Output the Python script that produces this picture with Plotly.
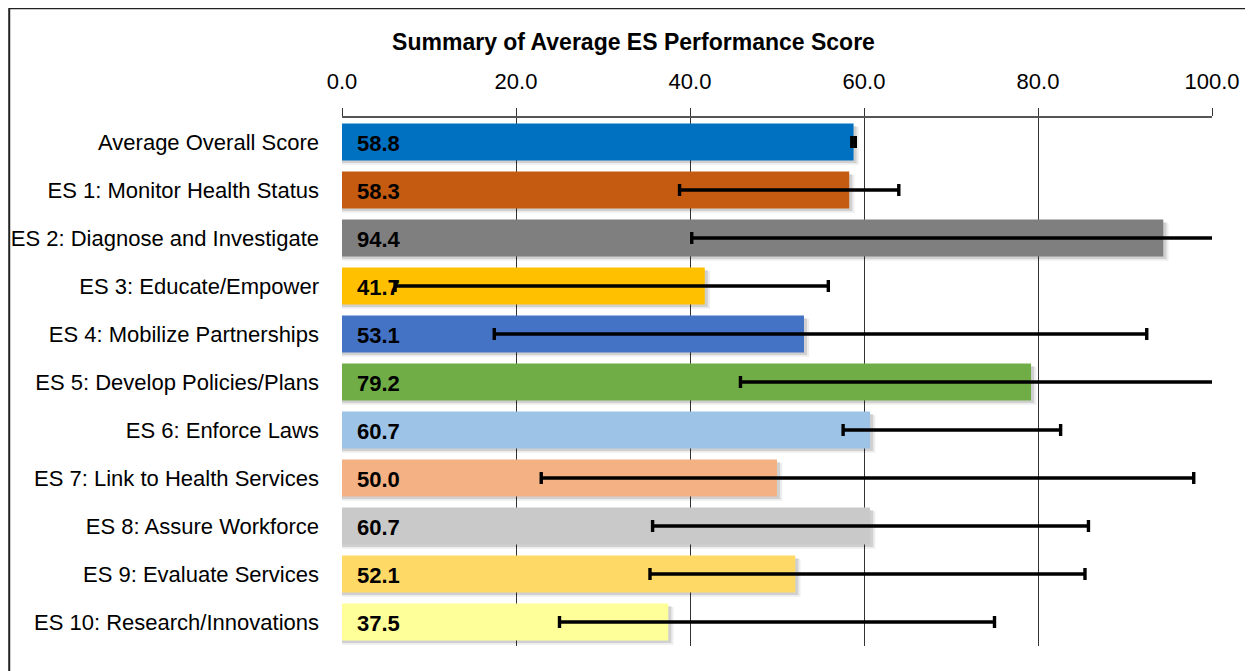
import plotly.graph_objects as go

categories = [
    "Average Overall Score",
    "ES 1: Monitor Health Status",
    "ES 2: Diagnose and Investigate",
    "ES 3: Educate/Empower",
    "ES 4: Mobilize Partnerships",
    "ES 5: Develop Policies/Plans",
    "ES 6: Enforce Laws",
    "ES 7: Link to Health Services",
    "ES 8: Assure Workforce",
    "ES 9: Evaluate Services",
    "ES 10: Research/Innovations",
]
scores = [58.8, 58.3, 94.4, 41.7, 53.1, 79.2, 60.7, 50.0, 60.7, 52.1, 37.5]
range_low = [58.6, 38.8, 40.2, 6.1, 17.5, 45.8, 57.6, 22.9, 35.7, 35.4, 25.0]
range_high = [59.0, 64.0, 104.0, 55.9, 92.5, 104.0, 82.6, 97.9, 85.8, 85.4, 75.0]
colors = ["#0070C0", "#C55A11", "#7F7F7F", "#FFC000", "#4472C4", "#70AD47",
          "#9DC3E6", "#F4B183", "#C9C9C9", "#FFD966", "#FFFF99"]
x_ticks = [0, 20, 40, 60, 80, 100]

FONT = "Liberation Sans, Arial, Helvetica, sans-serif"

err_plus = [h - v for h, v in zip(range_high, scores)]
err_minus = [v - l for l, v in zip(range_low, scores)]

bar_w = 0.77

fig = go.Figure()
# soft shadows behind bars
fig.add_trace(go.Bar(
    y=categories, x=[v + 0.6 for v in scores], orientation="h",
    marker=dict(color="rgba(0,0,0,0.07)", line=dict(width=0)),
    width=bar_w + 0.02, offset=-bar_w / 2 + 0.07, hoverinfo="skip", showlegend=False,
))
fig.add_trace(go.Bar(
    y=categories, x=[v + 0.35 for v in scores], orientation="h",
    marker=dict(color="rgba(0,0,0,0.12)", line=dict(width=0)),
    width=bar_w, offset=-bar_w / 2 + 0.05, hoverinfo="skip", showlegend=False,
))
fig.add_trace(go.Bar(
    y=categories, x=scores, orientation="h",
    marker=dict(color=colors, line=dict(width=0)),
    width=bar_w,
    error_x=dict(type="data", symmetric=False, array=err_plus, arrayminus=err_minus,
                 color="black", thickness=3.4, width=6),
    showlegend=False,
))

for c, v in zip(categories, scores):
    fig.add_annotation(x=0, y=c, text=f"<b>{v:.1f}</b>", showarrow=False,
                       xanchor="left", xshift=13, yshift=-1,
                       font=dict(family=FONT, size=22, color="black"))

# chart-area frame (left and top edges visible)
fig.add_shape(type="rect", xref="paper", yref="paper",
              x0=-0.3825, x1=1.3, y0=-0.3, y1=1.2079,
              line=dict(color="#222222", width=2), layer="below")

fig.update_layout(
    width=1245, height=663,
    margin=dict(l=333.5, r=41, t=110.3, b=24.5, autoexpand=False),
    paper_bgcolor="white", plot_bgcolor="white",
    barmode="overlay", bargap=0.23,
    title=dict(text="<b>Summary of Average ES Performance Score</b>",
               x=0.5024, xanchor="center", y=0.9487, yanchor="middle",
               xref="container", yref="container",
               font=dict(family=FONT, size=23, color="black")),
    xaxis=dict(side="top", range=[0, 100], tickvals=x_ticks,
               ticktext=[f"{t:.1f}" for t in x_ticks],
               showgrid=True, gridcolor="#333333", gridwidth=1.2,
               zeroline=False, showline=True, linecolor="#555555", linewidth=1.5,
               ticks="outside", ticklen=8, tickcolor="#333333", tickwidth=1.2,
               ticklabelstandoff=10, automargin=False,
               tickfont=dict(family=FONT, size=22, color="black"),
               fixedrange=True),
    yaxis=dict(autorange="reversed", showgrid=False, ticks="", showline=False,
               ticklabelstandoff=22, automargin=False,
               tickfont=dict(family=FONT, size=22, color="black"),
               fixedrange=True),
)

fig.write_html("out.html")
